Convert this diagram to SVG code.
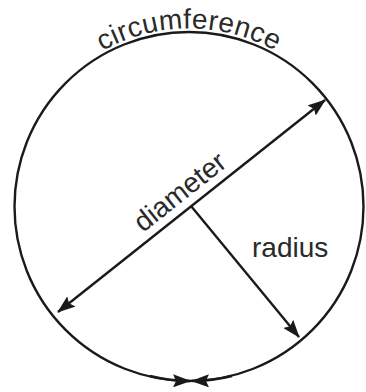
<svg xmlns="http://www.w3.org/2000/svg" xmlns:xlink="http://www.w3.org/1999/xlink" width="366" height="392" viewBox="0 0 366 392">
<style>
.ln{fill:none;stroke:#1a1a1a;stroke-width:2.4}
.lbl{font-family:"Liberation Sans",Arial,sans-serif;font-size:28px;fill:#2a2a2a}
</style>
<defs>
<marker id="ah" viewBox="0 0 18 13" refX="17" refY="6.5" markerWidth="18" markerHeight="13" markerUnits="userSpaceOnUse" orient="auto-start-reverse">
<path d="M0,0 L18,6.5 L0,13 L3,6.5 z" fill="#1a1a1a"/>
</marker>
<path id="arcText" d="M 11,206.5 A 178 178 0 0 1 367,206.5"/>
</defs>
<g id="circle">
<circle class="ln" cx="189" cy="206.5" r="174.5" stroke-width="2.2"/>
<text class="lbl" letter-spacing="0.4"><textPath xlink:href="#arcText" href="#arcText" startOffset="50%" text-anchor="middle">circumference</textPath></text>
</g>
<g id="connectors">
<path id="diameter-line" class="ln" d="M 58,312 L 325,100" marker-start="url(#ah)" marker-end="url(#ah)"/>
<path id="radius-line" class="ln" d="M 191,206 L 299,337" marker-end="url(#ah)"/>
<path class="ln" d="M 150,376 A 174.5 174.5 0 0 0 190,381" marker-end="url(#ah)"/>
<path class="ln" d="M 232,376 A 174.5 174.5 0 0 1 192,381" marker-end="url(#ah)"/>
</g>
<g id="diameter-label">
<text class="lbl" transform="translate(143,233) rotate(-38.4)">diameter</text>
</g>
<g id="radius-label">
<text class="lbl" x="252" y="257">radius</text>
</g>
</svg>
